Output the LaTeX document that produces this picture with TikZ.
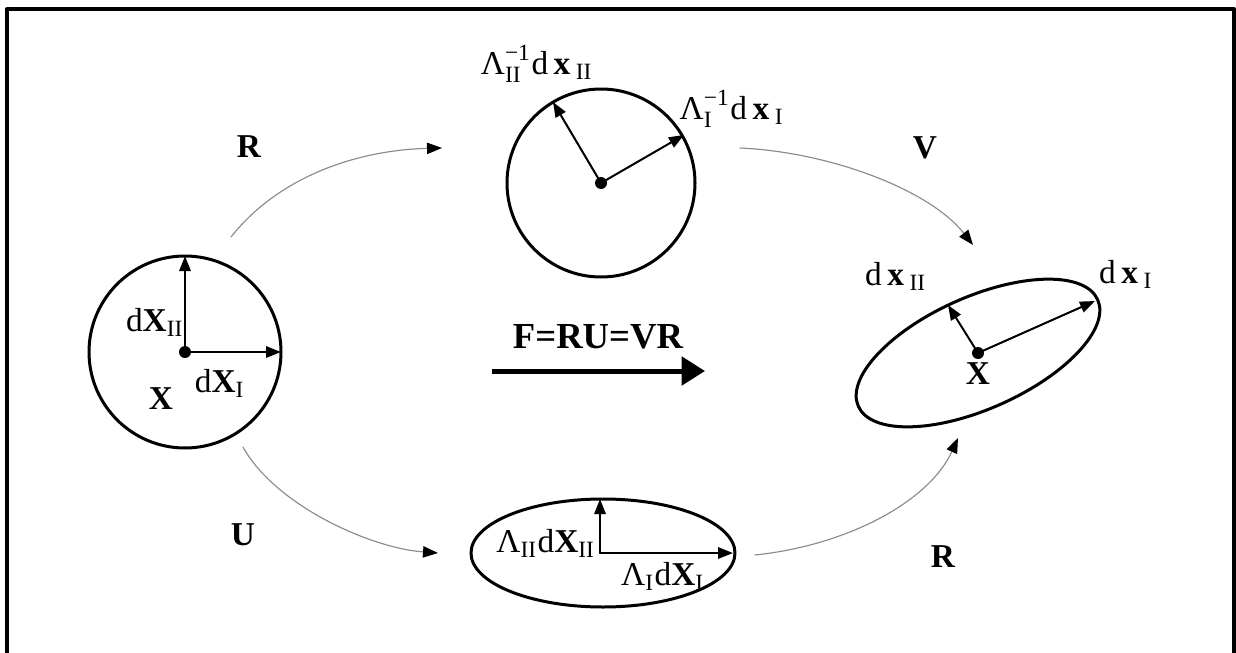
\documentclass[tikz,border=0pt]{standalone}
\usepackage{amsmath}
\usepackage{fontspec}
\setmainfont{Liberation Serif}
\usetikzlibrary{arrows.meta,positioning}

\newcommand{\vX}{\textbf{X}}
\newcommand{\vx}{\textbf{x}}
\newcommand{\low}[1]{\textsubscript{#1}}
\newcommand{\laminv}[1]{$\text{Λ}^{\text{−1}}_{\text{#1}}$}

\tikzset{
	outline/.style={line width=0.9pt},
	vec/.style={-{Triangle[length=4.5pt,width=3.4pt]}, line width=0.6pt},
	map/.style={-{Triangle[length=4.5pt,width=3.4pt,color=black]}, black!45, line width=0.35pt},
	dot/.style={circle, fill, inner sep=0pt, minimum size=3.6pt},
	lbl/.style={inner sep=0pt}
}

\begin{document}
\begin{tikzpicture}[x=0.3pt, y=-0.3pt, >=Latex, line cap=round, line join=round]
		\useasboundingbox (0,0) rectangle (1236,653);
		\draw[line width=1.2pt, line cap=butt] (7,700) -- (7,9) -- (1234,9) -- (1234,700);
		
		\begin{scope}[shift={(185,352)}]
			\draw[outline] (0,0) circle [radius=96];
			\node[dot] (o1) at (0,0) {};
			\draw[vec] (o1.center) -- (0,-96);
			\draw[vec] (o1.center) -- (96,0);
			\node[lbl] (dXII) at (-30,-30) {d\vX\low{II}};
			\node[lbl] (dXI) at (35,31) {d\vX\low{I}};
			\node[lbl] (X1) at (-24,47) {\vX};
		\end{scope}
		
		\begin{scope}[shift={(601,183)}]
			\draw[outline] (0,0) circle [radius=94];
			\node[dot] (o2) at (0,0) {};
			\draw[vec] (o2.center) -- (-48,-81);
			\draw[vec] (o2.center) -- (83,-48);
			\node[lbl] (lII) at (-64,-119) {\laminv{II}d\,\vx\,\low{II}};
			\node[lbl] (lI) at (131,-74) {\laminv{I}d\,\vx\,\low{I}};
		\end{scope}
		
		\begin{scope}[shift={(978,353)}]
			\draw[outline, rotate=24] (0,0) ellipse [x radius=131, y radius=56];
			\node[dot] (o3) at (0,0) {};
			\draw[vec] (o3.center) -- (117,-52);
			\draw[vec] (o3.center) -- (-30,-48);
			\node[lbl] (dxII) at (-82,-77) {d\,\vx\,\low{II}};
			\node[lbl] (dxI) at (148,-79) {d\,\vx\,\low{I}};
			\node[lbl] (X3) at (0,21) {\vX};
		\end{scope}
		
		\begin{scope}[shift={(603,553)}]
			\draw[outline] (0,0) ellipse [x radius=132, y radius=54];
			\coordinate (o4) at (-3,0);
			\draw[vec] (o4) -- (-3,-54);
			\draw[vec] (o4) -- (130,0);
			\node[lbl] (lXII) at (-57,-10) {Λ\low{II}d\vX\low{II}};
			\node[lbl] (lXI) at (60,23) {Λ\low{I}d\vX\low{I}};
		\end{scope}
		
		\coordinate (rs) at (231,237);
		\coordinate (re) at (442,148);
		\coordinate (vs) at (740,148);
		\coordinate (ve) at (973,245);
		\coordinate (us) at (243,447);
		\coordinate (ue) at (438,553);
		\coordinate (qs) at (755,555);
		\coordinate (qe) at (958,438);
		\draw[map] (rs) .. controls (280,175) and (360,150) .. (re);
		\draw[map] (vs) .. controls (830,152) and (930,190) .. (ve);
		\draw[map] (us) .. controls (275,505) and (370,548) .. (ue);
		\draw[map] (qs) .. controls (850,545) and (930,500) .. (qe);
		\node[lbl] (Rtop) at (249,147) {\textbf{R}};
		\node[lbl] (Vtop) at (925,148) {\textbf{V}};
		\node[lbl] (Ubot) at (243,535) {\textbf{U}};
		\node[lbl] (Rbot) at (943,557) {\textbf{R}};
		
		\coordinate (fs) at (492,371);
		\coordinate (fe) at (705,371);
		\draw[-{Triangle[length=7pt,width=8.4pt]}, line width=1.5pt, line cap=butt] (fs) -- (fe);
		\node[lbl, font=\fontsize{11}{13}\selectfont\bfseries] (F) at (598,337) {F=RU=VR};
	\end{tikzpicture}
\end{document}
